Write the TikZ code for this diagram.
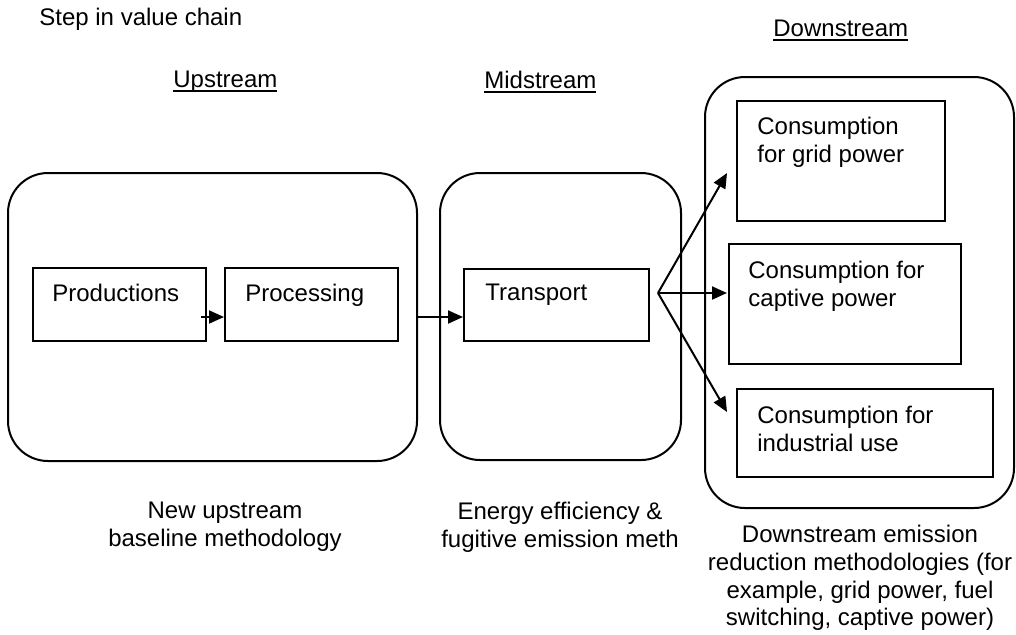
\documentclass[tikz,border=0pt]{standalone}
\usepackage{fontspec}
\setmainfont{Liberation Sans}
\usetikzlibrary{arrows.meta,calc}
\newcommand\ulword[1]{\setbox0\hbox{#1}\rlap{\rule[-2pt]{\wd0}{0.9pt}}#1}

\tikzset{
	stage/.style={draw, line width=1pt, rounded corners=20pt, inner sep=0pt},
	stepbox/.style={draw, line width=1pt, inner sep=0pt},
	txt/.style={inner sep=0pt, align=left, anchor=north west},
	caption/.style={inner sep=0pt, align=center, anchor=north},
	arr/.style={line width=1pt, -{Triangle[length=7.5pt,width=6.5pt]}},
}

\begin{document}
\begin{tikzpicture}[x=0.5pt, y=-0.5pt, every node/.append style={font=\fontsize{12}{13.8}\selectfont}]
		%%%%% START %%%%%
		\useasboundingbox (0,0) rectangle (1016,634);
		
		\node[txt] (title) at (39,8) {Step in value chain};
		\node[txt] (uplbl) at (173,71) {\ulword{Upstream}};
		\node[txt] (midlbl) at (484,71) {\ulword{Midstream}};
		\node[txt] (downlbl) at (773,20) {\ulword{Downstream}};
		
		\node[stage, minimum width=204.5pt, minimum height=144pt] (up) at (212.5,317) {};
		\node[stage, minimum width=120.5pt, minimum height=143.5pt] (mid) at (560.5,316.5) {};
		\node[stage, minimum width=154.5pt, minimum height=215.5pt] (down) at (859.5,292.5) {};
		
		\node[stepbox, minimum width=86.5pt, minimum height=36.5pt] (prod) at (119.5,304.5) {};
		\node[stepbox, minimum width=86.5pt, minimum height=36.5pt] (proc) at (311.5,304.5) {};
		\node[stepbox, minimum width=92.5pt, minimum height=36pt] (trans) at (556.5,305) {};
		\node[stepbox, minimum width=104pt, minimum height=60pt] (grid) at (841,161) {};
		\node[stepbox, minimum width=116pt, minimum height=60pt] (captive) at (845,304) {};
		\node[stepbox, minimum width=128pt, minimum height=44pt] (indus) at (865,433) {};
		
		\node[txt] (prodtxt) at ([shift={(10pt,-8.5pt)}]prod.north west) {Productions};
		\node[txt] (proctxt) at ([shift={(10.5pt,-8.5pt)}]proc.north west) {Processing};
		\node[txt] (transtxt) at ([shift={(11pt,-8pt)}]trans.north west) {Transport};
		\node[txt] (gridtxt) at ([shift={(10.5pt,-8.5pt)}]grid.north west) {Consumption\\for grid power};
		\node[txt] (captivetxt) at ([shift={(10pt,-9pt)}]captive.north west) {Consumption for\\captive power};
		\node[txt] (industxt) at ([shift={(10.5pt,-9pt)}]indus.north west) {Consumption for\\industrial use};
		
		\draw[arr] ([xshift=-3pt,yshift=-6.25pt]prod.east) -- ([yshift=-6.25pt]proc.west);
		\draw[arr] (up.east) -- (up.east -| trans.west);
		
		\coordinate (fan) at ([xshift=4pt,yshift=6pt]trans.east);
		\draw[arr] (fan) -- ([xshift=-4.5pt,yshift=-6pt]grid.west);
		\draw[arr] (fan) -- ([xshift=-0.5pt,yshift=5.5pt]captive.west);
		\draw[arr] (fan) -- ([xshift=-4.5pt,yshift=10.5pt]indus.west);
		
		\node[caption] (upcap) at (225,502) {New upstream\\baseline methodology};
		\node[caption] (midcap) at (560,502) {Energy efficiency \&\\fugitive emission meth};
		\node[caption] (downcap) at (860,525) {Downstream emission\\reduction methodologies (for\\example, grid power, fuel\\switching, captive power)};
		
		%%%%% END %%%%%
\end{tikzpicture}
\end{document}
